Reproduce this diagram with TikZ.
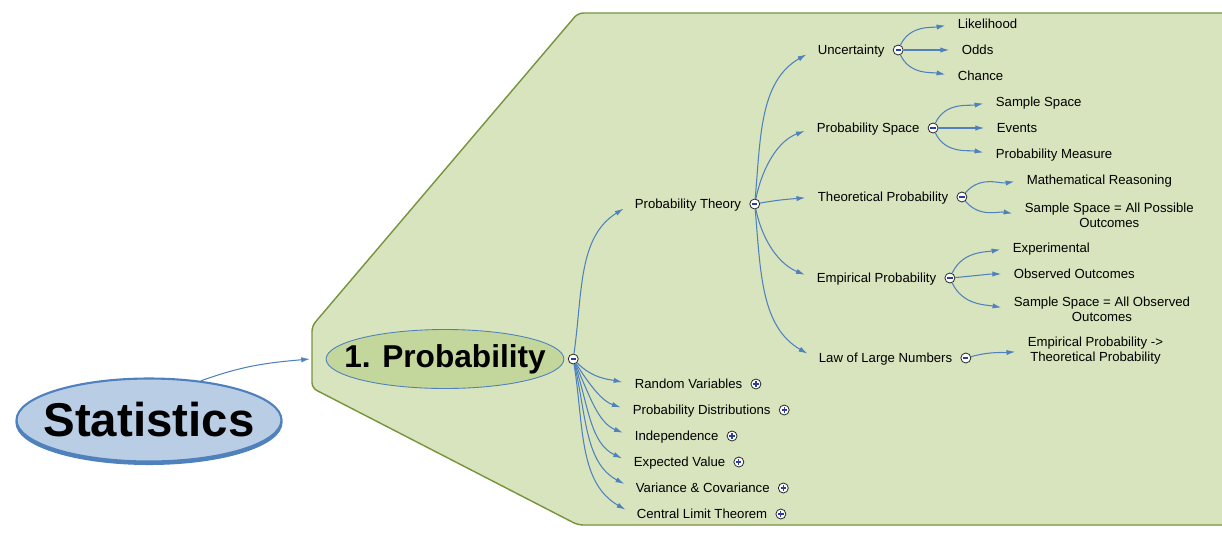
\documentclass[tikz,border=0pt]{standalone}
\usepackage{fontspec}
\setmainfont{Liberation Sans}
\usepackage{xcolor}
\definecolor{mmblue}{HTML}{4F81BD}
\definecolor{mmstat}{HTML}{B9CDE5}
\definecolor{mmpanel}{HTML}{D7E4BD}
\definecolor{mmedge}{HTML}{77933C}
\definecolor{mmtopic}{HTML}{C3D69B}
\definecolor{mmsign}{HTML}{2B3FA0}
\usepackage{tikz}
\usetikzlibrary{
  shapes.geometric, arrows.meta, positioning, shadows
}
\begin{document}
\begin{tikzpicture}[
  x=0.02cm, y=-0.02cm,
  font=\fontsize{7.5}{8.5}\selectfont,
  panel/.style={draw=mmedge, fill=mmpanel, line width=0.8pt,
    rounded corners=3pt},
  central/.style={ellipse, draw=mmblue, fill=mmstat, line width=1.2pt,
    minimum width=5.3cm, minimum height=1.66cm,
    inner xsep=-6.8pt, inner ysep=0pt,
    copy shadow={shadow xshift=0pt, shadow yshift=-1.4pt,
      fill=mmblue, draw=mmblue},
    font=\fontsize{27}{30}\selectfont\bfseries},
  topic/.style={ellipse, draw=mmblue, fill=mmtopic, line width=0.5pt,
    minimum width=4.72cm, minimum height=1.18cm,
    inner xsep=-9.5pt, inner ysep=0pt,
    font=\fontsize{18}{20}\selectfont\bfseries},
  leaf/.style={anchor=west, inner xsep=2pt, inner ysep=1pt,
    text height=7.2pt, text depth=1.6pt},
  twoline/.style={anchor=west, align=center, inner xsep=2pt,
    inner ysep=1pt},
  fold/.style={circle, draw=black!85, fill=white, line width=0.45pt,
    minimum size=0.2cm, inner sep=0pt},
  foldminus/.style={fold, path picture={
    \draw[mmsign, line width=0.8pt]
      ([xshift=-1.5pt]path picture bounding box.center) --
      ([xshift=1.5pt]path picture bounding box.center);}},
  foldplus/.style={fold, path picture={
    \draw[mmsign, line width=0.7pt]
      ([xshift=-1.5pt]path picture bounding box.center) --
      ([xshift=1.5pt]path picture bounding box.center)
      ([yshift=-1.5pt]path picture bounding box.center) --
      ([yshift=1.5pt]path picture bounding box.center);}},
  conn/.style={-{Latex[length=5pt,width=3pt]}, draw=mmblue,
    line width=0.6pt, shorten >=5pt}
]
  \useasboundingbox (0,0) rectangle (1222,538);

  % green panel behind the topic
  \draw[panel] (1230,13) -- (578,13) -- (312,326) -- (312,388)
    -- (578,525) -- (1230,525);

  \node[central] (stats) at (149,420) {Statistics};
  \coordinate (pin) at (310,359);
  \node[topic] (prob) at (445,359) {1. Probability};
  \node[foldminus, right=2pt of prob] (probm) {};

  % first level
  \node[leaf] (pt) at (631,204) {Probability Theory};
  \node[foldminus, right=2.5pt of pt] (ptm) {};
  \node[leaf] (rv) at (631,384) {Random Variables};
  \node[foldplus, right=2.5pt of rv] (rvm) {};
  \node[leaf] (pd) at (629,410) {Probability Distributions};
  \node[foldplus, right=2.5pt of pd] (pdm) {};
  \node[leaf] (ind) at (631,436) {Independence};
  \node[foldplus, right=2.5pt of ind] (indm) {};
  \node[leaf] (ev) at (630,462) {Expected Value};
  \node[foldplus, right=2.5pt of ev] (evm) {};
  \node[leaf] (vc) at (632,488) {Variance \& Covariance};
  \node[foldplus, right=2.5pt of vc] (vcm) {};
  \node[leaf] (clt) at (633,514) {Central Limit Theorem};
  \node[foldplus, right=2.5pt of clt] (cltm) {};

  % second level
  \node[leaf] (unc) at (814,50) {Uncertainty};
  \node[foldminus, right=2.5pt of unc] (uncm) {};
  \node[leaf] (ps) at (813,128) {Probability Space};
  \node[foldminus, right=2.5pt of ps] (psm) {};
  \node[leaf] (tp) at (814,197) {Theoretical Probability};
  \node[foldminus, right=2.5pt of tp] (tpm) {};
  \node[leaf] (ep) at (813,278) {Empirical Probability};
  \node[foldminus, right=2.5pt of ep] (epm) {};
  \node[leaf] (lln) at (815,358) {Law of Large Numbers};
  \node[foldminus, right=2.5pt of lln] (llnm) {};

  % third level
  \node[leaf] (lik) at (954,24) {Likelihood};
  \node[leaf] (odds) at (958,50) {Odds};
  \node[leaf] (chance) at (954,76) {Chance};
  \node[leaf] (ss) at (992,102) {Sample Space};
  \node[leaf] (evts) at (993,128) {Events};
  \node[leaf] (pmeas) at (992,154) {Probability Measure};
  \node[leaf] (mr) at (1023,180) {Mathematical Reasoning};
  \node[twoline] (ssall) at (1021,215)
    {Sample Space = All Possible\\Outcomes};
  \node[leaf] (expm) at (1009,248) {Experimental};
  \node[leaf] (obs) at (1010,274) {Observed Outcomes};
  \node[twoline] (ssobs) at (1010,309)
    {Sample Space = All Observed\\Outcomes};
  \node[twoline] (eptp) at (1024,351)
    {Empirical Probability ->\\Theoretical Probability};

  \draw[conn, shorten >=0pt] (stats.37) to[out=20, in=185] (pin);

  \draw[conn] (probm) to[out=82, in=212] (pt.west);
  \draw[conn] (probm) to[out=-45, in=168] (rv.west);
  \draw[conn] (probm) to[out=-58, in=162] (pd.west);
  \draw[conn] (probm) to[out=-66, in=158] (ind.west);
  \draw[conn] (probm) to[out=-72, in=155] (ev.west);
  \draw[conn] (probm) to[out=-77, in=152] (vc.west);
  \draw[conn] (probm) to[out=-81, in=150] (clt.west);

  \draw[conn] (ptm) to[out=85, in=210] (unc.west);
  \draw[conn] (ptm) to[out=78, in=200] (ps.west);
  \draw[conn] (ptm) to[out=10, in=185] (tp.west);
  \draw[conn] (ptm) to[out=-78, in=158] (ep.west);
  \draw[conn] (ptm) to[out=-85, in=150] (lln.west);

  \draw[conn] (uncm) to[out=65, in=190] (lik.west);
  \draw[conn] (uncm) -- (odds.west);
  \draw[conn] (uncm) to[out=-65, in=170] (chance.west);

  \draw[conn] (psm) to[out=65, in=190] (ss.west);
  \draw[conn] (psm) -- (evts.west);
  \draw[conn] (psm) to[out=-65, in=170] (pmeas.west);

  \draw[conn] (tpm) to[out=50, in=190] (mr.west);
  \draw[conn] (tpm) to[out=-50, in=170] (ssall.west);

  \draw[conn] (epm) to[out=65, in=190] (expm.west);
  \draw[conn] (epm) to[out=5, in=180] (obs.west);
  \draw[conn] (epm) to[out=-65, in=170] (ssobs.west);

  \draw[conn] (llnm) to[out=15, in=185] (eptp.west);
\end{tikzpicture}
\end{document}
